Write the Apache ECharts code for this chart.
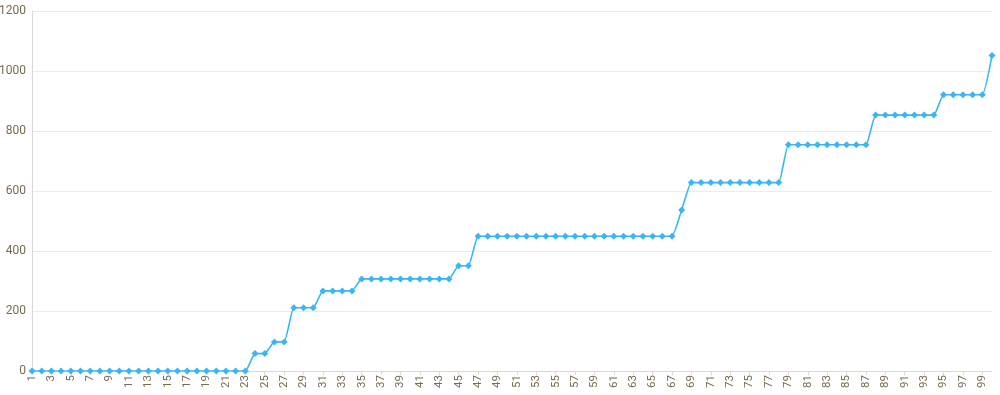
<!DOCTYPE html>
<html>
<head>
<meta charset="utf-8">
<script src="https://cdn.jsdelivr.net/npm/echarts@6/dist/echarts.min.js"></script>
<style>
html,body{margin:0;padding:0;background:#fff;}
#c{width:1000px;height:395px;}
</style>
</head>
<body>
<div id="c"></div>
<script>
var categories = [];
for (var i = 1; i <= 100; i++) categories.push(String(i));

var values = [
  0,0,0,0,0,0,0,0,0,0,
  0,0,0,0,0,0,0,0,0,0,
  0,0,0,58,58,97,97,211,211,211,
  267,267,267,267,307,307,307,307,307,307,
  307,307,307,307,351,351,449,449,449,449,
  449,449,449,449,449,449,449,449,449,449,
  449,449,449,449,449,449,449,537,628,628,
  628,628,628,628,628,628,628,628,754,754,
  754,754,754,754,754,754,754,853,853,853,
  853,853,853,853,921,921,921,921,921,1052
];

var yTicks = { min: 0, max: 1200, interval: 200 };

var chart = echarts.init(document.getElementById('c'), null, { renderer: 'canvas' });
chart.setOption({
  animation: false,
  grid: { left: 32, right: 8, top: 11, bottom: 24, containLabel: false, outerBoundsMode: 'none' },
  xAxis: {
    type: 'category',
    data: categories,
    boundaryGap: false,
    axisLine: { lineStyle: { color: '#d9d9d9' } },
    axisTick: { show: true, interval: 1, length: 4, lineStyle: { color: '#d9d9d9' } },
    axisLabel: {
      interval: 1,
      rotate: 90,
      color: '#7a6a50',
      fontSize: 11.5,
      fontFamily: 'Roboto, sans-serif',
      margin: 4
    },
    splitLine: { show: false }
  },
  yAxis: {
    type: 'value',
    min: yTicks.min,
    max: yTicks.max,
    interval: yTicks.interval,
    axisLine: { show: true, lineStyle: { color: '#d9d9d9' } },
    axisTick: { show: false },
    axisLabel: {
      color: '#7a6a50',
      fontSize: 12,
      fontFamily: 'Roboto, sans-serif',
      margin: 6,
      formatter: function (v) { return String(v); }
    },
    splitLine: { lineStyle: { color: '#ebebeb' } }
  },
  series: [{
    type: 'line',
    data: values,
    smooth: 0.15,
    symbol: 'diamond',
    symbolSize: 7,
    showAllSymbol: true,
    lineStyle: { color: '#3ab6f7', width: 1.6 },
    itemStyle: { color: '#3ab6f7' }
  }]
});
</script>
</body>
</html>
